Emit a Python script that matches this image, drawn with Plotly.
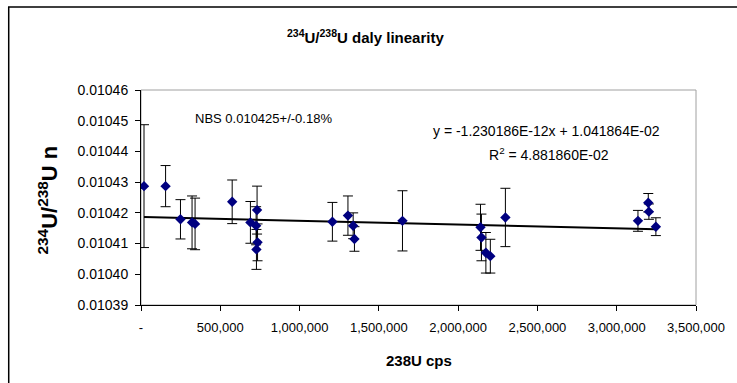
import plotly.graph_objects as go

# ---- data ----
cps_238u = [19000, 155000, 249000, 322000, 341000, 575000, 690000, 732000, 726000,
            735000, 728000, 1207000, 1305000, 1338000, 1346000, 1649000, 2141000,
            2147000, 2175000, 2203000, 2298000, 3134000, 3199000, 3203000, 3247000]
ratio_234_238 = [0.0104287, 0.0104287, 0.0104179, 0.0104169, 0.0104164, 0.0104236,
                 0.0104169, 0.0104209, 0.0104158, 0.0104104, 0.0104081, 0.0104171,
                 0.0104191, 0.0104158, 0.0104115, 0.0104174, 0.0104153, 0.0104120,
                 0.0104070, 0.0104059, 0.0104185, 0.0104174, 0.0104233, 0.0104204,
                 0.0104155]
ratio_err = [0.0000200, 0.0000067, 0.0000064, 0.0000086, 0.0000084, 0.0000071,
             0.0000068, 0.0000078, 0.0000062, 0.0000060, 0.0000065, 0.0000063,
             0.0000064, 0.0000042, 0.0000040, 0.0000098, 0.0000075, 0.0000076,
             0.0000066, 0.0000055, 0.0000095, 0.0000034, 0.0000030, 0.0000025,
             0.0000029]
trend_slope = -1.230186e-12
trend_intercept = 1.041864e-02
x_tickvals = [0, 500000, 1000000, 1500000, 2000000, 2500000, 3000000, 3500000]
x_ticktext = ["-", "500,000", "1,000,000", "1,500,000", "2,000,000",
              "2,500,000", "3,000,000", "3,500,000"]
y_tickvals = [0.01039, 0.01040, 0.01041, 0.01042, 0.01043, 0.01044, 0.01045, 0.01046]

FONT = "Liberation Sans, Arial, sans-serif"
NARROW = "Liberation Sans Narrow, Arial Narrow, Liberation Sans, Arial, sans-serif"

fig = go.Figure()

trend_x = [min(cps_238u), max(cps_238u)]
trend_y = [trend_slope * v + trend_intercept for v in trend_x]
fig.add_trace(go.Scatter(x=trend_x, y=trend_y, mode="lines",
                         line=dict(color="black", width=2), hoverinfo="skip",
                         showlegend=False))

fig.add_trace(go.Scatter(
    x=cps_238u, y=ratio_234_238, mode="markers",
    marker=dict(symbol="diamond", color="#000080", size=8, line=dict(width=0)),
    error_y=dict(type="data", array=ratio_err, symmetric=True, color="black",
                 thickness=1, width=5),
    showlegend=False))

L, R, T, B = 141, 38, 90, 78
W, H = 737, 383
PW, PH = W - L - R, H - T - B

def px(xp):
    return (xp - L) / PW

def py(yp):
    return (H - B - yp) / PH

fig.update_layout(
    width=W, height=H,
    margin=dict(l=L, r=R, t=T, b=B, pad=0),
    paper_bgcolor="white", plot_bgcolor="white",
    font=dict(family=FONT, size=13, color="black"),
    xaxis=dict(range=[0, 3500000], tickvals=x_tickvals, ticktext=x_ticktext,
               showgrid=False, zeroline=False, showline=True, linecolor="black",
               linewidth=1, ticks="outside", ticklen=5, tickcolor="black",
               ticklabelstandoff=5,
               tickfont=dict(size=13, family=FONT)),
    yaxis=dict(range=[0.01039, 0.01046], tickvals=y_tickvals, tickformat=".5f",
               showgrid=False, zeroline=False, showline=True, linecolor="black",
               linewidth=1, ticks="outside", ticklen=5, tickcolor="black",
               ticklabelstandoff=4,
               tickfont=dict(size=14, family=FONT)),
    shapes=[
        dict(type="rect", xref="paper", yref="paper", x0=0, x1=1, y0=0, y1=1,
             line=dict(color="#a0a0a0", width=1), layer="below"),
        dict(type="rect", xref="paper", yref="paper", x0=px(8), x1=px(745),
             y0=py(395), y1=py(7), line=dict(color="black", width=1.5)),
    ],
    annotations=[
        dict(text="<b><sup>234</sup>U/<sup>238</sup>U daly linearity</b>",
             xref="paper", yref="paper", x=px(367), y=py(37),
             xanchor="center", yanchor="middle", showarrow=False,
             font=dict(family=NARROW, size=15)),
        dict(text="<b><sup>234</sup>U/<sup>238</sup>U n</b>",
             xref="paper", yref="paper", x=px(47), y=py(200), textangle=-90,
             xanchor="center", yanchor="middle", showarrow=False,
             font=dict(family=FONT, size=22)),
        dict(text="<b>238U cps</b>", xref="paper", yref="paper", x=0.5, y=py(360),
             xanchor="center", yanchor="middle", showarrow=False,
             font=dict(family=FONT, size=15)),
        dict(text="NBS 0.010425+/-0.18%", xref="paper", yref="paper",
             x=px(193), y=py(118), xanchor="left", yanchor="middle",
             showarrow=False, font=dict(family=FONT, size=13)),
        dict(text="y = -1.230186E-12x + 1.041864E-02", xref="paper", yref="paper",
             x=px(549), y=py(131), xanchor="center", yanchor="middle",
             showarrow=False, font=dict(family=FONT, size=14)),
        dict(text="R<sup>2</sup> = 4.881860E-02", xref="paper", yref="paper",
             x=px(551), y=py(154), xanchor="center", yanchor="middle",
             showarrow=False, font=dict(family=FONT, size=14)),
    ],
)

fig.write_html("out.html")
